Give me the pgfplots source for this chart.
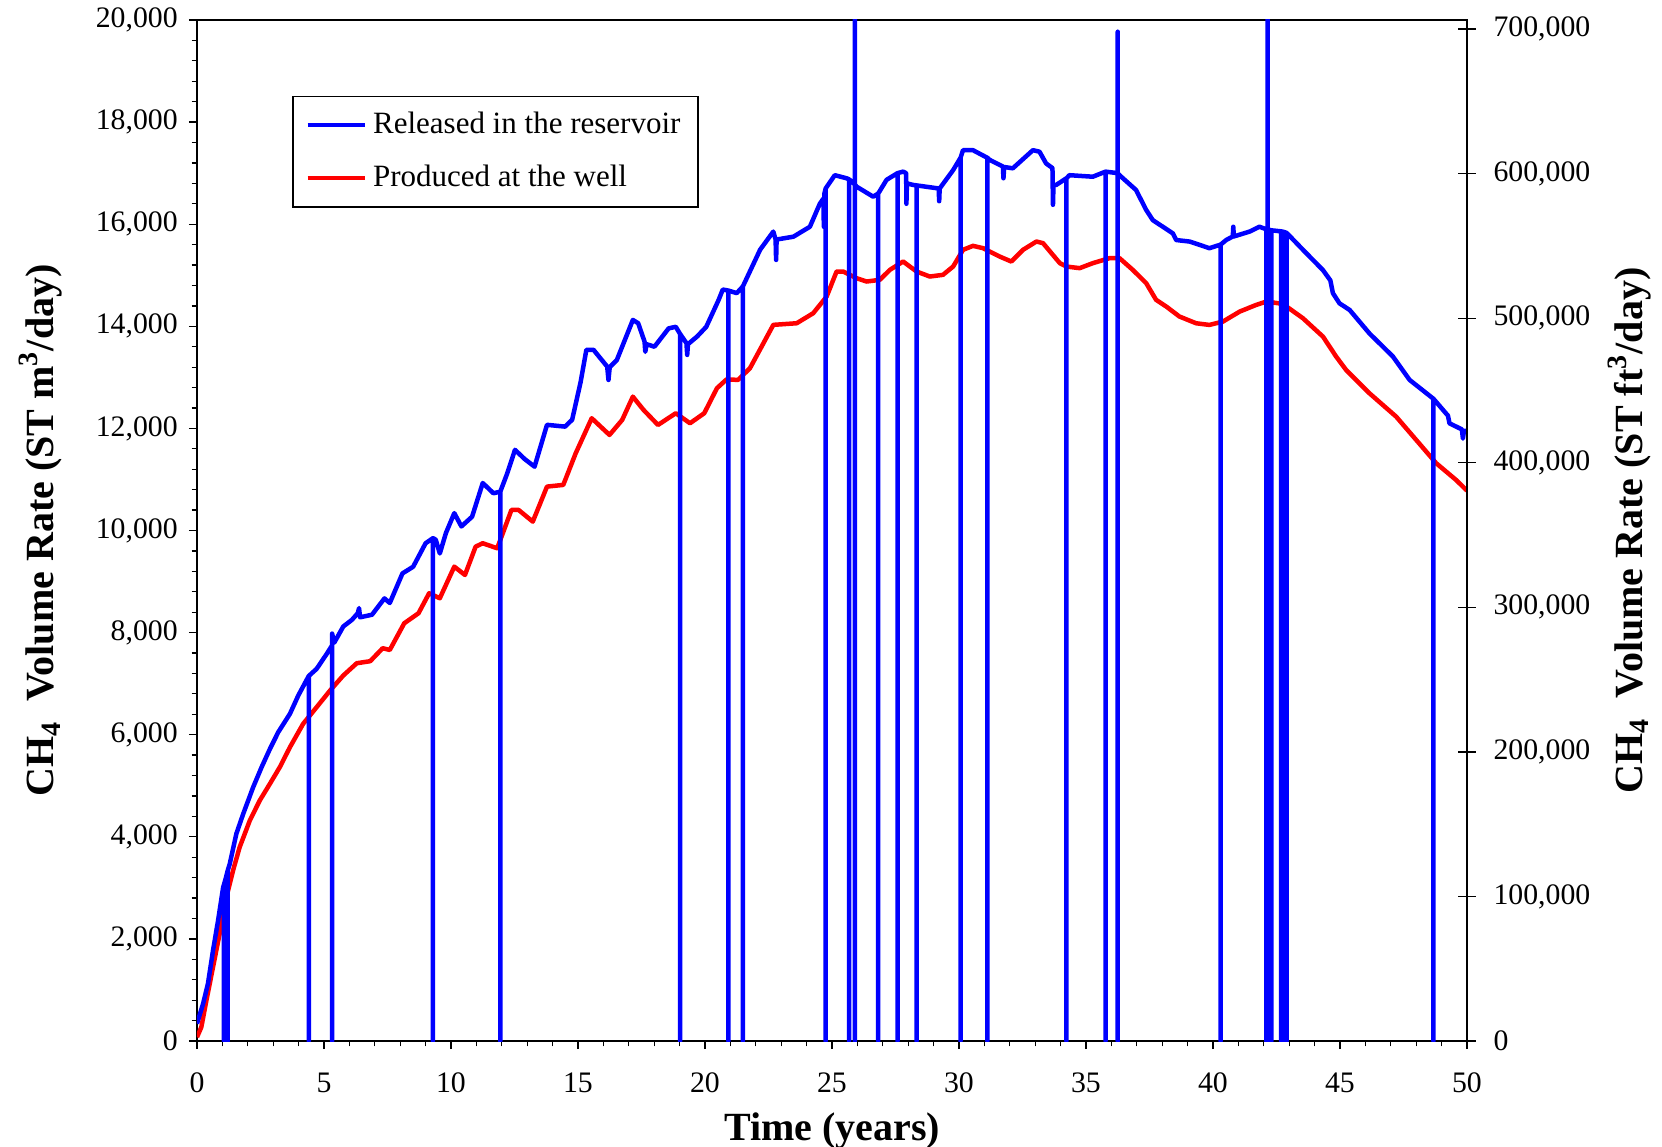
\documentclass[border=0pt]{standalone}
\usepackage{fontspec}
\setmainfont{Liberation Serif}
\usepackage{pgfplots}
\pgfplotsset{compat=1.18}
\begin{document}
\begin{tikzpicture}
\useasboundingbox (-78.8pt,-42pt) rectangle (586pt,416.4pt);
\begin{axis}[
  at={(0pt,0pt)}, anchor=south west,
  scale only axis, width=508pt, height=408.4pt,
  xmin=0, xmax=50, ymin=0, ymax=20000,
  xtick={0,5,...,50}, minor x tick num=4,
  ytick={0,2000,...,20000}, minor y tick num=4,
  tick pos=left, tick align=outside,
  major tick length=3.2pt, minor tick length=2.1pt,
  scaled y ticks=false,
  /pgf/number format/fixed,
  /pgf/number format/1000 sep={,},
  /pgf/number format/assume math mode=true,
  tick label style={font=\fontsize{11.9}{14}\selectfont},
  every tick/.style={black, line width=0.5pt},
  axis line style={line width=0.5pt},
  xlabel={Time (years)},
  ylabel={CH\textsubscript{4}\ \ Volume Rate (ST m\textsuperscript{3}/day)},
  label style={font=\fontsize{16}{19}\selectfont\bfseries},
  xlabel style={at={(axis description cs:0.5,-0.088)}, anchor=center},
  ylabel style={at={(axis description cs:-0.123,0.5)}, anchor=center},
  xticklabel style={yshift=-6pt},
  yticklabel style={xshift=-1pt},
  legend style={at={(rel axis cs:0.0752,0.926)}, anchor=north west, draw=black, line width=0.5pt,
    font=\fontsize{12.4}{15}\selectfont, row sep=7.1pt, inner xsep=5pt, inner ysep=4.5pt,
    /tikz/every odd column/.append style={column sep=0.6pt}},
  legend cell align=left,
  reverse legend,
  legend image code/.code={\draw[#1, line width=1.6pt] (0pt,0pt) -- (22.8pt,0pt);},
  clip=true,
]
\addplot[red, line width=1.8pt, line join=round] coordinates {
(0,75) (0.17,270) (0.37,793) (0.63,1446) (0.89,2100) (1.16,2817) (1.42,3340) (1.68,3797)
(2.08,4320) (2.47,4711) (2.87,5038) (3.26,5364) (3.66,5756) (4.18,6214) (4.71,6539) (5.24,6866)
(5.76,7160) (6.29,7400) (6.82,7440) (7.31,7694) (7.59,7660) (8.16,8183) (8.72,8379) (9.14,8771)
(9.56,8673) (10.13,9292) (10.55,9129) (10.97,9684) (11.25,9750) (11.82,9652) (12.38,10403)
(12.66,10403) (13.22,10174) (13.78,10860) (14.42,10893) (14.91,11513) (15.54,12199) (16.24,11872)
(16.74,12166) (17.16,12622) (17.58,12362) (18.15,12068) (18.85,12297) (19.41,12101) (19.97,12297)
(20.47,12787) (20.85,12960) (21.30,12950) (21.77,13179) (22.69,14028) (23.61,14060) (24.26,14256)
(24.79,14583) (25.18,15073) (25.44,15073) (25.97,14942) (26.36,14877) (26.88,14910) (27.28,15106)
(27.80,15269) (28.33,15073) (28.85,14975) (29.37,15008) (29.77,15171) (30.16,15498) (30.55,15576)
(30.95,15530) (31.60,15367) (32.06,15269) (32.52,15498) (33.05,15661) (33.31,15628) (33.97,15237)
(34.23,15171) (34.75,15139) (35.27,15237) (35.93,15335) (36.32,15335) (36.84,15106) (37.37,14845)
(37.76,14518) (38.16,14387) (38.68,14191) (39.34,14059) (39.86,14027) (40.39,14092) (41.05,14288)
(41.70,14419) (42.10,14484) (42.75,14439) (43.54,14158) (44.33,13798) (44.85,13406) (45.24,13145)
(46.16,12688) (47.21,12231) (48.00,11774) (48.79,11317) (49.57,10990) (50.00,10780)
};
\addlegendentry{Produced at the well}
\addplot[blue, line width=1.8pt, line join=round] coordinates {
(0,340) (0.24,730) (0.43,1120) (0.63,1770) (0.83,2360) (1.03,3010)
(1.06,3060) (1.06,0) (1.06,3060)
(1.14,3200) (1.14,0) (1.14,3200)
(1.21,3340) (1.21,0) (1.21,3340)
(1.29,3470) (1.55,4060) (1.82,4450) (2.21,4970) (2.54,5360) (2.87,5720) (3.20,6050) (3.66,6410) (3.99,6770)
(4.40,7150) (4.40,0) (4.40,7150)
(4.71,7290) (5.11,7585)
(5.32,7750) (5.32,0) (5.32,7980)
(5.40,7800) (5.76,8120) (6.10,8250) (6.33,8380) (6.38,8480) (6.42,8300) (6.89,8350) (7.38,8670)
(7.59,8580) (8.09,9160) (8.51,9290) (9.00,9750)
(9.29,9850) (9.29,0) (9.29,9850)
(9.40,9820) (9.56,9550) (9.80,9950) (10.13,10340) (10.41,10080) (10.83,10270) (11.25,10930) (11.67,10730)
(11.94,10760) (11.94,0) (11.94,10760)
(12.20,11100) (12.52,11580) (12.90,11400) (13.29,11250) (13.78,12070) (14.49,12035) (14.77,12170)
(15.10,12900) (15.33,13540) (15.61,13540) (16.15,13210) (16.20,12950) (16.25,13200) (16.53,13340)
(16.90,13800) (17.16,14125) (17.37,14060) (17.62,13700) (17.65,13500) (17.70,13650) (18.01,13600)
(18.57,13960) (18.85,13990)
(19.02,13850) (19.02,0) (19.02,13850)
(19.27,13670) (19.30,13440) (19.33,13650) (19.69,13800) (20.05,13990) (20.54,14520) (20.70,14720)
(20.92,14700) (20.92,0) (20.92,14700)
(21.25,14650)
(21.49,14780) (21.49,0) (21.49,14780)
(22.17,15500) (22.69,15855) (22.78,15700) (22.80,15300) (22.82,15700) (23.48,15755) (24.13,15950)
(24.52,16400) (24.66,16500) (24.68,15950) (24.70,16600)
(24.75,16700) (24.75,0) (24.75,16700)
(25.11,16960) (25.57,16900)
(25.67,16880) (25.67,0) (25.67,16880)
(25.90,16780) (25.90,0) (25.90,21500) (25.90,16780)
(25.97,16735) (26.62,16540)
(26.82,16600) (26.82,0) (26.82,16600)
(27.15,16870)
(27.58,17000) (27.58,0) (27.58,17000)
(27.80,17030) (27.92,17000) (27.93,16400) (27.95,16800) (28.19,16770)
(28.33,16760) (28.33,0) (28.33,16760)
(29.20,16700) (29.22,16450) (29.24,16700) (29.77,17060)
(30.06,17300) (30.06,0) (30.06,17300)
(30.16,17450) (30.55,17450)
(31.12,17300) (31.12,0) (31.12,17300)
(31.21,17260) (31.73,17130) (31.75,16900) (31.78,17120) (32.12,17095) (32.91,17450) (33.17,17420)
(33.43,17190) (33.68,17100) (33.70,16380) (33.72,16770) (33.83,16770)
(34.23,16900) (34.23,0) (34.23,16900)
(34.35,16960) (35.27,16930)
(35.77,17030) (35.77,0) (35.77,17030)
(36.25,17000) (36.25,0) (36.25,19770) (36.25,17000)
(36.32,16960) (36.97,16670) (37.37,16280) (37.63,16080) (38.42,15820) (38.55,15690) (39.08,15660) (39.86,15530)
(40.30,15600) (40.30,0) (40.30,15600)
(40.52,15690) (40.78,15760) (40.80,15950) (40.82,15760) (41.44,15855) (41.83,15950)
(42.10,15900) (42.10,0) (42.10,15900)
(42.15,15900) (42.15,0) (42.15,21500) (42.15,15900)
(42.22,15890) (42.22,0) (42.22,15890)
(42.30,15880) (42.30,0) (42.30,15880)
(42.68,15860) (42.68,0) (42.68,15860)
(42.78,15850) (42.78,0) (42.78,15850)
(42.90,15830) (42.90,0) (42.90,15830)
(43.54,15500) (44.33,15100) (44.62,14900) (44.72,14650) (44.98,14450) (45.38,14320) (46.16,13860)
(47.08,13410) (47.74,12950)
(48.68,12580) (48.68,0) (48.68,12580)
(49.25,12250) (49.31,12100) (49.80,11980) (49.84,11800) (49.88,11950) (50.00,11950)
};
\addlegendentry{Released in the reservoir}
\end{axis}
\begin{axis}[
  at={(0pt,0pt)}, anchor=south west,
  scale only axis, width=508pt, height=408.4pt,
  xmin=0, xmax=50, ymin=0, ymax=706294,
  axis x line=none, axis y line*=right,
  ytick={0,100000,...,700000},
  tick align=center, major tick length=7pt,
  scaled y ticks=false,
  /pgf/number format/fixed,
  /pgf/number format/1000 sep={,},
  /pgf/number format/assume math mode=true,
  tick label style={font=\fontsize{11.9}{14}\selectfont},
  every tick/.style={black, line width=0.5pt},
  axis line style={line width=0.5pt, -},
  yticklabel style={xshift=3.6pt},
  ylabel={CH\textsubscript{4}\ \ Volume Rate (ST ft\textsuperscript{3}/day)},
  label style={font=\fontsize{16}{19}\selectfont\bfseries},
  ylabel style={at={(axis description cs:1.128,0.5)}, anchor=center, rotate=0},
]
\end{axis}
\end{tikzpicture}
\end{document}
